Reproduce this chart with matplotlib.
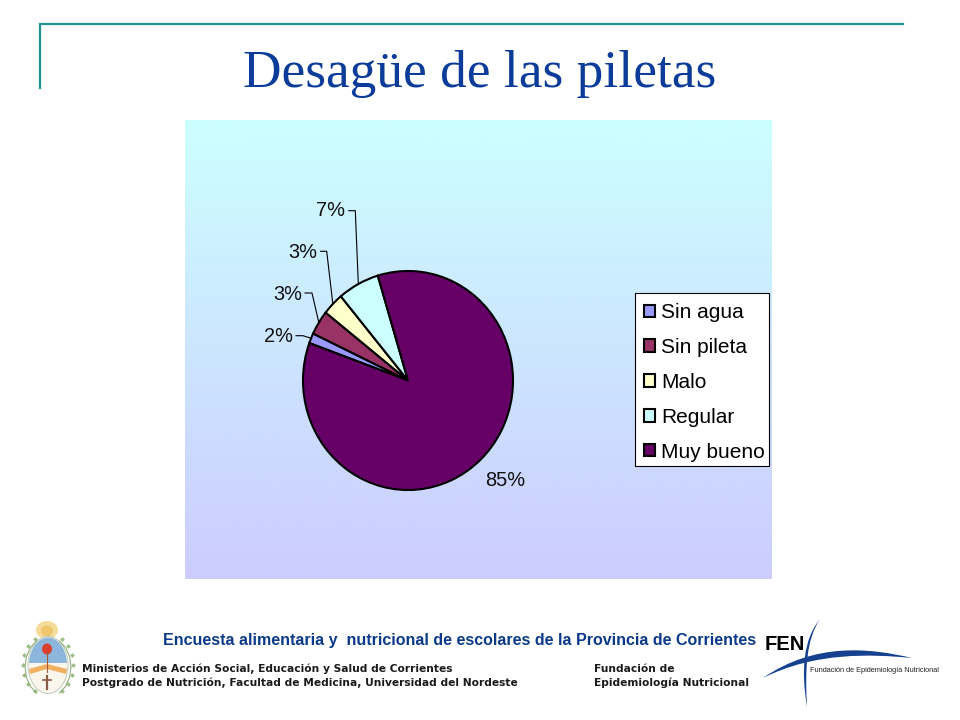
"""Desagüe de las piletas: slide with a pie chart and footer logos."""
import matplotlib
matplotlib.use("Agg")
import matplotlib.pyplot as plt
import numpy as np
from matplotlib.patches import Ellipse, PathPatch, Polygon, Rectangle
from matplotlib.path import Path

W, H = 960, 720

# data
categories = ["Sin agua", "Sin pileta", "Malo", "Regular", "Muy bueno"]
shares = [1.5, 3.6, 3.3, 6.4, 85.2]
share_labels = ["2%", "3%", "3%", "7%", "85%"]
colors = ["#9999FF", "#993366", "#FFFFCC", "#CCFFFF", "#660066"]

TITLE_COLOR = "#0B3C9A"
FRAME_COLOR = "#2A8F8F"
SANS = "Liberation Sans"
FOOT = "DejaVu Sans"

# pie box in slide pixels
PIE_LEFT, PIE_RIGHT, PIE_TOP, PIE_BOTTOM = 303, 513, 271, 490
PANEL = (185, 772, 579, 120)

# leader elbows per slice (label anchor, elbow start, elbow corner)
leaders = [
    ((293, 336), (296, 335.7), (303, 335.7)),
    ((302, 294), (305, 293), (312, 293)),
    ((317, 252), (320.7, 251.3), (326.7, 251.3)),
    ((345, 211), (348.7, 210.7), (355.3, 210.7)),
]


def draw_crest(ax):
    """Rough Argentine coat of arms at the bottom left."""
    ax.add_patch(Ellipse((47, 630), 22, 18, fc="#F6DC9A", ec="none"))
    ax.add_patch(Ellipse((47, 631), 12, 11, fc="#EFC56E", ec="none"))
    ax.add_patch(Ellipse((48, 665), 40, 57, fc="#FBF6EC", ec="#B5C4B0", lw=0.6))
    top = Ellipse((48, 665), 38, 55, fc="#8DB6DC", ec="none")
    ax.add_patch(top)
    top.set_clip_path(Polygon([(25, 630), (71, 630), (71, 663), (25, 663)],
                              transform=ax.transData))
    ax.add_patch(Polygon([(29, 669), (47, 664), (67, 669), (66, 674),
                          (47, 669), (30, 674)], fc="#F0B060", ec="none"))
    ax.add_patch(Ellipse((47, 649), 10, 11, fc="#D9402F", ec="none"))
    ax.plot([47, 47], [652, 672], color="#A85A3C", lw=0.8)
    ax.plot([47, 47], [676, 689], color="#8A5A44", lw=1.6)
    ax.plot([43, 51], [680, 680], color="#8A5A44", lw=1.2)
    # laurel branches either side of the oval
    for side in (-1, 1):
        t = np.radians(np.array([-60, -40, -20, 0, 20, 40, 60]))
        xs = 48 + side * 23 * np.cos(t)
        ys = 667 + 30 * np.sin(t)
        ax.plot(xs, ys, color="#8FB07C", lw=0.8)
        ax.scatter(xs + side * 2, ys - 2, s=6, marker="D", color="#9CBD88",
                   linewidths=0)


def draw_fen_logo(ax):
    """FEN wordmark with its two blue swooshes."""
    ax.text(765, 645, "FEN", family=SANS, fontweight="bold", fontsize=14.5,
            color="black", ha="left", va="center")
    blue = "#15418F"
    horiz = Path([(763, 678), (815, 642), (870, 648), (912, 658),
                  (870, 654), (815, 652), (763, 678)],
                 [Path.MOVETO, Path.CURVE4, Path.CURVE4, Path.CURVE4,
                  Path.CURVE4, Path.CURVE4, Path.CURVE4])
    ax.add_patch(PathPatch(horiz, fc=blue, ec="none"))
    vert = Path([(820, 619), (803, 640), (801, 670), (807, 707),
                 (805, 670), (806, 640), (820, 619)],
                [Path.MOVETO, Path.CURVE4, Path.CURVE4, Path.CURVE4,
                 Path.CURVE4, Path.CURVE4, Path.CURVE4])
    ax.add_patch(PathPatch(vert, fc=blue, ec="none"))
    ax.text(810, 670, "Fundación de Epidemiología Nutricional", family=SANS,
            fontsize=5.3, color="#222222", ha="left", va="center")


fig = plt.figure(figsize=(W / 100, H / 100), dpi=100, facecolor="white")

# slide layer in pixel coordinates
slide = fig.add_axes([0, 0, 1, 1])
slide.axis("off")

slide.plot([40, 40, 903], [88, 24, 24], color=FRAME_COLOR, lw=1.6,
           solid_joinstyle="miter")
slide.text(479.5, 74, "Desagüe de las piletas", family="Liberation Serif",
           fontsize=38.4, color=TITLE_COLOR, ha="center", va="center")

gradient = np.array([[204, 255, 255], [204, 204, 255]], dtype=float) / 255
steps = np.linspace(0, 1, 256)[:, None, None]
slide.imshow(gradient[0] * (1 - steps) + gradient[1] * steps, extent=PANEL,
             aspect="auto", interpolation="bilinear", zorder=1)
slide.set_xlim(0, W)
slide.set_ylim(H, 0)

slide.text(460, 640, "Encuesta alimentaria y  nutricional de escolares de la Provincia de Corrientes",
           family=SANS, fontweight="bold", fontsize=11.5, color="#0B3A8A",
           ha="center", va="center")
foot_style = dict(family=FOOT, fontweight="bold", fontsize=7.65, color="#1A1A1A",
                  va="center")
slide.text(82, 668.5, "Ministerios de Acción Social, Educación y Salud de Corrientes", **foot_style)
slide.text(82, 682.5, "Postgrado de Nutrición, Facultad de Medicina, Universidad del Nordeste", **foot_style)
slide.text(594, 668.5, "Fundación de", **foot_style)
slide.text(594, 682.5, "Epidemiología Nutricional", **foot_style)
draw_crest(slide)
draw_fen_logo(slide)

# the pie is slightly taller than wide, so its axes keep a free aspect
pie_ax = fig.add_axes([PIE_LEFT / W, 1 - PIE_BOTTOM / H,
                       (PIE_RIGHT - PIE_LEFT) / W, (PIE_BOTTOM - PIE_TOP) / H])
wedges, _ = pie_ax.pie(shares, colors=colors, startangle=160, counterclock=False,
                       radius=1, wedgeprops=dict(edgecolor="black", linewidth=1.5))
pie_ax.set_aspect("auto")
pie_ax.set_xlim(-1, 1)
pie_ax.set_ylim(-1, 1)
for w in wedges:
    w.set_clip_on(False)

cx, cy = (PIE_LEFT + PIE_RIGHT) / 2, (PIE_TOP + PIE_BOTTOM) / 2
rx, ry = (PIE_RIGHT - PIE_LEFT) / 2, (PIE_BOTTOM - PIE_TOP) / 2
for w, label, (anchor, start, corner) in zip(wedges, share_labels, leaders):
    mid = np.radians((w.theta1 + w.theta2) / 2)
    end = (cx + rx * np.cos(mid), cy - ry * np.sin(mid))
    slide.plot([start[0], corner[0], end[0]], [start[1], corner[1], end[1]],
               color="black", lw=0.8, zorder=2)
    slide.text(anchor[0], anchor[1], label, family=SANS, fontsize=14.4,
               color="#111111", ha="right", va="center", zorder=3)
slide.text(505, 481, share_labels[4], family=SANS, fontsize=14.4, color="#111111",
           ha="center", va="center", zorder=3)

# legend box is drawn apart so the rows can sit a little low in it, as in the slide
slide.add_patch(Rectangle((635, 293), 134, 173, fc="white", ec="black", lw=0.8, zorder=2))
leg = fig.legend(wedges, categories, loc="upper left",
                 bbox_to_anchor=(635 / W, 1 - 294.5 / H), bbox_transform=fig.transFigure,
                 prop=dict(family=SANS, size=15), frameon=False, borderaxespad=0,
                 borderpad=0.42, handlelength=0.55, handleheight=0.55,
                 handletextpad=0.3, labelspacing=0.76)

fig.savefig("out.png", dpi=100)
